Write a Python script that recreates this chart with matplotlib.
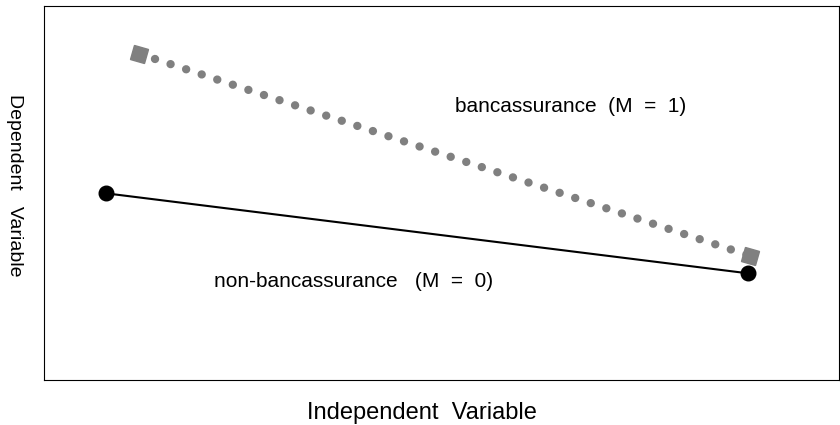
import matplotlib.pyplot as plt
from matplotlib.markers import MarkerStyle
from matplotlib.transforms import Affine2D

plt.rcParams['font.family'] = ['Liberation Sans', 'DejaVu Sans']

# line end points (arbitrary units)
non_x = [0.78, 8.86]
non_y = [4.99, 2.85]
banc_x = [1.20, 8.88]
banc_y = [8.72, 3.32]

fig = plt.figure(figsize=(8.4, 4.25), dpi=100)
ax = fig.add_axes([0.0524, 0.106, 0.9464, 0.88])

# bancassurance: gray round dots with rotated squares at the ends
ax.plot(banc_x, banc_y, color="#808080", linewidth=6,
        linestyle=(0, (0.01, 1.957)), dash_capstyle="round")
sq = MarkerStyle("s", transform=Affine2D().rotate_deg(-18.3))
ax.plot(banc_x, banc_y, linestyle="none", marker=sq, markersize=10.5,
        markeredgewidth=1, color="#808080")

# non-bancassurance: solid black line with round ends
ax.plot(non_x, non_y, color="black", linewidth=1.5,
        marker="o", markersize=10.5, markeredgewidth=1)

ax.text(6.62, 7.17, "bancassurance  (M  =  1)", ha="center", va="baseline",
        fontsize=15)
ax.text(3.89, 2.49, "non-bancassurance   (M  =  0)", ha="center", va="baseline",
        fontsize=15)

ax.set_xlim(0, 10)
ax.set_ylim(0, 10)
ax.set_xticks([])
ax.set_yticks([])
for s in ax.spines.values():
    s.set_linewidth(0.8)

ax.set_xlabel("Independent  Variable", fontsize=17, va="baseline")
ax.xaxis.set_label_coords(0.4755, -0.104)
ax.set_ylabel("Dependent   Variable", fontsize=14, rotation=270,
              ha="center", va="center", rotation_mode="anchor")
ax.yaxis.set_label_coords(-0.0377, 0.521)

fig.savefig("out.png", dpi=100)
